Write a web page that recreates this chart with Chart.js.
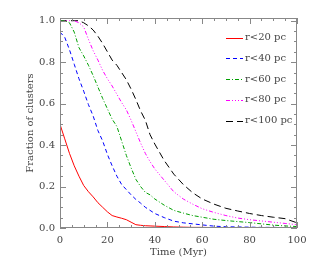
<!DOCTYPE html>
<html>
<head>
<meta charset="utf-8">
<script src="https://cdn.jsdelivr.net/npm/chart.js@4/dist/chart.umd.min.js"></script>
<style>
  html, body { margin: 0; padding: 0; background: #fff; }
  #wrap { width: 315px; height: 267px; }
</style>
</head>
<body>
<div id="wrap"><canvas id="c" width="315" height="267"></canvas></div>
<script>
// time grid (Myr)
const times = [0, 2, 4, 6, 8, 10, 12, 14, 16, 18, 20, 22, 24, 26, 28, 30, 32, 34, 36, 38,
               40, 44, 48, 52, 56, 60, 65, 70, 75, 80, 85, 90, 95, 100];

// fraction of clusters within each radius
const r20 = [0.50, 0.43, 0.36, 0.30, 0.25, 0.205, 0.175, 0.15, 0.122, 0.10, 0.078, 0.06, 0.053, 0.047, 0.04, 0.028, 0.016, 0.013, 0.011, 0.01,
             0.009, 0.007, 0.005, 0.004, 0.003, 0.003, 0.002, 0.002, 0.002, 0.001, 0.001, 0.001, 0.001, 0.001];
const r40 = [0.945, 0.92, 0.86, 0.79, 0.72, 0.66, 0.595, 0.54, 0.47, 0.42, 0.355, 0.30, 0.25, 0.21, 0.185, 0.16, 0.138, 0.12, 0.10, 0.085,
             0.07, 0.05, 0.033, 0.025, 0.02, 0.015, 0.009, 0.006, 0.005, 0.004, 0.003, 0.003, 0.002, 0.002];
const r60 = [1.0, 1.0, 0.99, 0.945, 0.87, 0.83, 0.785, 0.735, 0.68, 0.625, 0.575, 0.525, 0.49, 0.42, 0.35, 0.29, 0.235, 0.20, 0.172, 0.16,
             0.14, 0.11, 0.085, 0.072, 0.06, 0.052, 0.042, 0.036, 0.031, 0.026, 0.02, 0.014, 0.01, 0.007];
const r80 = [1.0, 1.0, 1.0, 1.0, 0.99, 0.97, 0.91, 0.855, 0.81, 0.76, 0.72, 0.685, 0.645, 0.605, 0.57, 0.52, 0.465, 0.41, 0.36, 0.32,
             0.285, 0.23, 0.175, 0.14, 0.115, 0.093, 0.075, 0.06, 0.048, 0.04, 0.034, 0.028, 0.022, 0.016];
const r100 = [1.0, 1.0, 1.0, 1.0, 1.0, 0.99, 0.975, 0.955, 0.925, 0.89, 0.85, 0.81, 0.785, 0.75, 0.715, 0.67, 0.62, 0.565, 0.52, 0.45,
              0.405, 0.325, 0.26, 0.21, 0.17, 0.14, 0.115, 0.095, 0.082, 0.07, 0.06, 0.052, 0.045, 0.025];

const seriesNames = ['r<20 pc', 'r<40 pc', 'r<60 pc', 'r<80 pc', 'r<100 pc'];
const seriesValues = [r20, r40, r60, r80, r100];
const seriesColors = ['#ff0000', '#0000ff', '#00a000', '#ff00ff', '#000000'];
const seriesDashes = [[], [4, 3], [4, 2, 1, 2], [4, 2, 1, 2, 1, 2, 1, 2], [7, 4]];

const xTicks = [0, 20, 40, 60, 80, 100];
const yTicks = [0.0, 0.2, 0.4, 0.6, 0.8, 1.0];

const FONT = '"DejaVu Serif", "Liberation Serif", serif';
const TEXT = '#444444';
const FRAME = '#888888';

const datasets = seriesNames.map((name, i) => ({
    label: name,
    data: times.map((t, j) => ({ x: t, y: seriesValues[i][j] })),
    borderColor: seriesColors[i],
    borderDash: seriesDashes[i],
    borderWidth: 1,
    pointRadius: 0,
    tension: 0,
    fill: false
}));

// frame with inward ticks on all four sides
const framePlugin = {
    id: 'frame',
    afterDraw(chart) {
        const { ctx, chartArea: a, scales } = chart;
        const xs = scales.x, ys = scales.y;
        ctx.save();
        ctx.strokeStyle = FRAME;
        ctx.lineWidth = 1;
        ctx.strokeRect(a.left + 0.5, a.top + 0.5, a.right - a.left - 1, a.bottom - a.top - 1);
        ctx.beginPath();
        for (let v = 0; v <= 100; v += 5) {
            const px = Math.round(xs.getPixelForValue(v)) + 0.5;
            const len = v % 20 === 0 ? 6 : 3;
            ctx.moveTo(px, a.bottom); ctx.lineTo(px, a.bottom - len);
            ctx.moveTo(px, a.top); ctx.lineTo(px, a.top + len);
        }
        for (let k = 0; k <= 20; k++) {
            const v = k * 0.05;
            const py = Math.round(ys.getPixelForValue(v)) + 0.5;
            const len = k % 4 === 0 ? 6 : 3;
            ctx.moveTo(a.left, py); ctx.lineTo(a.left + len, py);
            ctx.moveTo(a.right, py); ctx.lineTo(a.right - len, py);
        }
        ctx.stroke();
        ctx.restore();
    }
};

// legend drawn inside the plot, upper right
const legendPlugin = {
    id: 'innerLegend',
    afterDraw(chart) {
        const { ctx } = chart;
        ctx.save();
        ctx.font = '10px ' + FONT;
        ctx.fillStyle = TEXT;
        ctx.textBaseline = 'middle';
        chart.data.datasets.forEach((ds, i) => {
            const y = 37.5 + i * 20.8;
            ctx.strokeStyle = ds.borderColor;
            ctx.lineWidth = 1;
            ctx.setLineDash(ds.borderDash);
            ctx.beginPath();
            ctx.moveTo(226, Math.round(y) + 0.5);
            ctx.lineTo(243, Math.round(y) + 0.5);
            ctx.stroke();
            ctx.setLineDash([]);
            ctx.fillText(ds.label, 245, y);
        });
        ctx.restore();
    }
};

new Chart(document.getElementById('c'), {
    type: 'line',
    data: { datasets },
    options: {
        responsive: false,
        animation: false,
        layout: { padding: { left: 0, right: 18, top: 18, bottom: 0 } },
        plugins: {
            legend: { display: false },
            tooltip: { enabled: false }
        },
        scales: {
            x: {
                type: 'linear',
                min: 0,
                max: 100,
                afterBuildTicks: s => { s.ticks = xTicks.map(v => ({ value: v })); },
                afterFit: s => { s.height = 39; },
                grid: { display: false, drawTicks: false },
                border: { display: false },
                ticks: { padding: 6, color: TEXT, font: { family: FONT, size: 10 }, maxRotation: 0 },
                title: { display: true, text: 'Time (Myr)', color: TEXT, font: { family: FONT, size: 10 }, padding: { top: 0, bottom: 9 } }
            },
            y: {
                min: 0,
                max: 1.013,
                afterBuildTicks: s => { s.ticks = yTicks.map(v => ({ value: v })); },
                afterFit: s => { s.width = 60; },
                grid: { display: false, drawTicks: false },
                border: { display: false },
                ticks: { padding: 5, color: TEXT, font: { family: FONT, size: 10 }, callback: v => v.toFixed(1) },
                title: { display: true, text: 'Fraction of clusters', color: TEXT, font: { family: FONT, size: 10 }, padding: { top: 24, bottom: 0 } }
            }
        }
    },
    plugins: [framePlugin, legendPlugin]
});
</script>
</body>
</html>
